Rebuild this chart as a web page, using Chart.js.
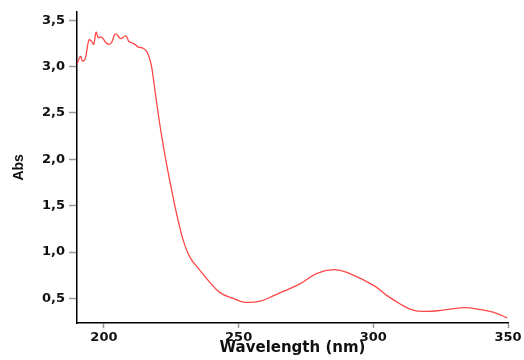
<!DOCTYPE html>
<html>
<head>
<meta charset="utf-8">
<script src="https://cdn.jsdelivr.net/npm/chart.js@4"></script>
<style>
  html, body { margin: 0; padding: 0; background: #fff; }
  #wrap { width: 524px; height: 360px; }
</style>
</head>
<body>
<div id="wrap"><canvas id="spectrum"></canvas></div>
<script>
// Dados
const wavelengths = [190, 191.3, 192, 193, 193.8, 194.5, 195.4, 196.2, 197.1, 197.9, 198.8, 199.7,
    201, 202.6, 204.1, 205, 206.2, 208.1, 209.3, 210.9, 212.8, 214.4, 215.9, 217.1, 217.8,
    219, 220.2, 221.5, 223.3, 225.2, 227, 229.5, 232, 235.7, 239.4, 243.2, 248.1, 251.8,
    258, 263, 272.9, 279.1, 285.3, 290.2, 300.1, 305.1, 310, 315, 320, 324.9, 333.6,
    339.8, 344.8, 349.7];
const absorbance = [3.03, 3.11, 3.06, 3.08, 3.20, 3.29, 3.27, 3.24, 3.37, 3.31, 3.32, 3.30,
    3.25, 3.25, 3.35, 3.34, 3.30, 3.33, 3.27, 3.25, 3.21, 3.20, 3.16, 3.07, 2.98,
    2.73, 2.48, 2.24, 1.94, 1.66, 1.41, 1.12, 0.94, 0.80, 0.67, 0.56, 0.50, 0.46,
    0.47, 0.53, 0.66, 0.77, 0.81, 0.78, 0.64, 0.53, 0.44, 0.37, 0.36, 0.37, 0.40,
    0.38, 0.35, 0.29];
const xTicks = [200, 250, 300, 350];
const yTicks = [0.5, 1.0, 1.5, 2.0, 2.5, 3.0, 3.5];

const points = wavelengths.map((w, i) => ({ x: w, y: absorbance[i] }));

const tickFont = { family: 'DejaVu Sans', size: 13, weight: 'bold' };

const config = {
    type: 'line',
    data: {
        datasets: [{
            data: points,
            borderColor: 'rgba(255, 40, 40, 0.85)',
            borderWidth: 1.3,
            pointRadius: 0,
            tension: 0.4,
            fill: false
        }]
    },
    options: {
        responsive: true,
        maintainAspectRatio: false,
        animation: false,
        layout: { padding: { top: 9, right: 16, left: 0, bottom: 0 } },
        plugins: {
            legend: { display: false },
            tooltip: { enabled: false }
        },
        scales: {
            x: {
                type: 'linear',
                min: 190,
                max: 350,
                afterBuildTicks: s => { s.ticks = xTicks.map(v => ({ value: v })); },
                afterFit: s => { s.height = 37; },
                grid: { drawOnChartArea: false, tickLength: 5, tickColor: '#999', tickWidth: 1.5 },
                border: { color: '#000', width: 1.5 },
                ticks: { font: tickFont, color: '#111', padding: 2, maxRotation: 0 },
                title: {
                    display: true,
                    text: 'Wavelength (nm)',
                    color: '#111',
                    font: { family: 'DejaVu Sans', size: 15, weight: 'bold' },
                    padding: { top: 0, bottom: 3 }
                }
            },
            y: {
                min: 0.235,
                max: 3.59,
                afterBuildTicks: s => { s.ticks = yTicks.map(v => ({ value: v })); },
                afterFit: s => { s.width = 77; },
                grid: { drawOnChartArea: false, tickLength: 8, tickColor: '#999', tickWidth: 1.5 },
                border: { color: '#000', width: 1.5 },
                ticks: {
                    font: tickFont,
                    color: '#111',
                    padding: 4,
                    callback: v => v.toFixed(1).replace('.', ',')
                },
                title: {
                    display: true,
                    text: 'Abs',
                    color: '#111',
                    font: { family: 'Liberation Sans Narrow, Liberation Sans', size: 14, weight: 'bold' },
                    padding: { top: 11, bottom: 0 }
                }
            }
        }
    }
};

window.onload = function() {
    const ctx = document.getElementById('spectrum').getContext('2d');
    new Chart(ctx, config);
};
</script>
</body>
</html>
